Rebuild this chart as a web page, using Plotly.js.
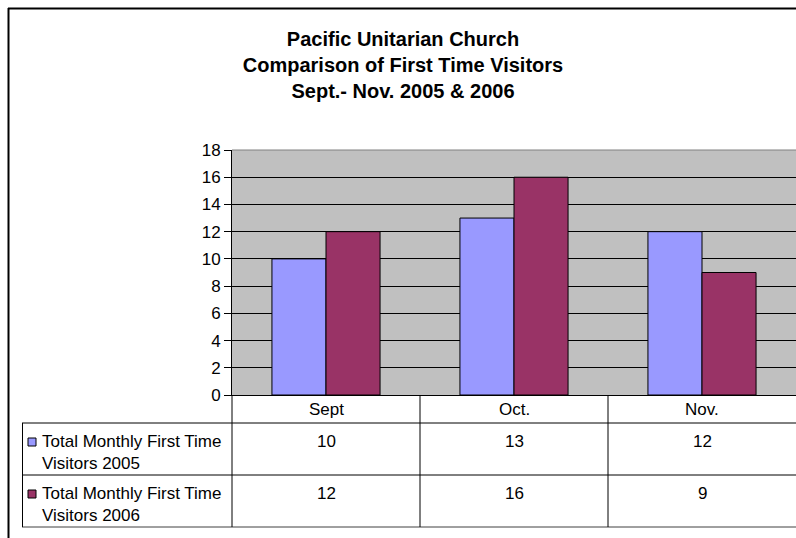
<!DOCTYPE html>
<html>
<head>
<meta charset="utf-8">
<script src="https://cdn.plot.ly/plotly-3.0.1.min.js"></script>
<style>html,body{margin:0;padding:0;background:#fff;}#chart{width:796px;height:538px;}</style>
</head>
<body>
<div id="chart"></div>
<script>
// ---- data ----
const months = ["Sept", "Oct.", "Nov."];
const seriesNames = ["Total Monthly First Time<br>Visitors 2005", "Total Monthly First Time<br>Visitors 2006"];
const visitors2005 = [10, 13, 12];
const visitors2006 = [12, 16, 9];
const yTicks = [0, 2, 4, 6, 8, 10, 12, 14, 16, 18];

// ---- geometry (pixels) ----
const W = 796, H = 538;
const L = 232, R = 796, T = 150, B = 395;
const px = p => (p - L) / (R - L);
const py = p => (B - p) / (B - T);
const colors = ["#9999FF", "#993366"];
const FONT = "Arial, 'Liberation Sans', sans-serif";
const FS = 17;

const traces = [visitors2005, visitors2006].map((vals, i) => ({
  type: "bar",
  x: months,
  y: vals,
  name: seriesNames[i],
  marker: {color: colors[i], line: {color: "#000", width: 1}},
  hoverinfo: "x+y"
}));

const shapes = [];
const line = (x0, y0, x1, y1, color, w) => shapes.push({
  type: "line", xref: "paper", yref: "paper",
  x0: px(x0), y0: py(y0), x1: px(x1), y1: py(y1),
  line: {color: color || "#000", width: w || 1}
});
// outer chart frame
line(8, 8.5, 800, 8.5, "#000", 2);
line(8.5, 8, 8.5, 540, "#000", 2);
// plot area top border
line(232, 150, 800, 150, "#808080", 1);
// table grid
line(22, 423, 800, 423, "#000", 1);
line(22, 475, 800, 475, "#000", 1);
line(22, 527, 800, 527, "#404040", 1);
line(22.5, 423, 22.5, 527, "#000", 1);
line(232, 395, 232, 527, "#000", 1);
line(420, 395, 420, 527, "#000", 1);
line(608, 395, 608, 527, "#000", 1);
// legend keys
const rowTops = [423, 475];
rowTops.forEach((t, i) => shapes.push({
  type: "rect", xref: "paper", yref: "paper",
  x0: px(28), x1: px(36), y0: py(t + 15), y1: py(t + 23),
  fillcolor: colors[i], line: {color: "#000", width: 1}
}));

const annotations = [];
months.forEach(m => annotations.push({
  x: m, xref: "x", y: py(409), yref: "paper", text: m, showarrow: false,
  xanchor: "center", yanchor: "middle", font: {family: FONT, size: FS, color: "#000"}
}));
[visitors2005, visitors2006].forEach((vals, i) => {
  vals.forEach((v, j) => annotations.push({
    x: months[j], xref: "x", y: py(rowTops[i] + 18), yref: "paper", text: String(v),
    showarrow: false, xanchor: "center", yanchor: "middle",
    font: {family: FONT, size: FS, color: "#000"}
  }));
  annotations.push({
    x: px(40), xref: "paper", y: py(rowTops[i] + 29), yref: "paper", text: seriesNames[i],
    showarrow: false, xanchor: "left", yanchor: "middle", align: "left",
    font: {family: FONT, size: FS, color: "#000"}
  });
});

const layout = {
  width: W, height: H,
  margin: {l: L, r: W - R, t: T, b: H - B, pad: 0},
  paper_bgcolor: "#fff",
  plot_bgcolor: "#C0C0C0",
  showlegend: false,
  barmode: "group",
  bargap: 0.425,
  bargroupgap: 0,
  title: {
    text: "<b>Pacific Unitarian Church<br>Comparison of First Time Visitors<br>Sept.- Nov. 2005 & 2006</b>",
    font: {family: FONT, size: 20, color: "#000"},
    x: 403 / W, xanchor: "center", xref: "container",
    y: 1 - 46 / H, yanchor: "top", yref: "container"
  },
  xaxis: {
    showticklabels: false, ticks: "", showgrid: false, zeroline: false,
    showline: true, linecolor: "#000", linewidth: 1, fixedrange: true
  },
  yaxis: {
    range: [0, 18], tickvals: yTicks, ticktext: yTicks.map(String),
    ticks: "outside", ticklen: 7, tickcolor: "#000", tickwidth: 1,
    showline: true, linecolor: "#000", linewidth: 1,
    showgrid: true, gridcolor: "#000", gridwidth: 1, zeroline: false,
    tickfont: {family: FONT, size: FS, color: "#000"}, fixedrange: true
  },
  shapes: shapes,
  annotations: annotations
};

Plotly.newPlot("chart", traces, layout, {displayModeBar: false, staticPlot: true});
</script>
</body>
</html>
